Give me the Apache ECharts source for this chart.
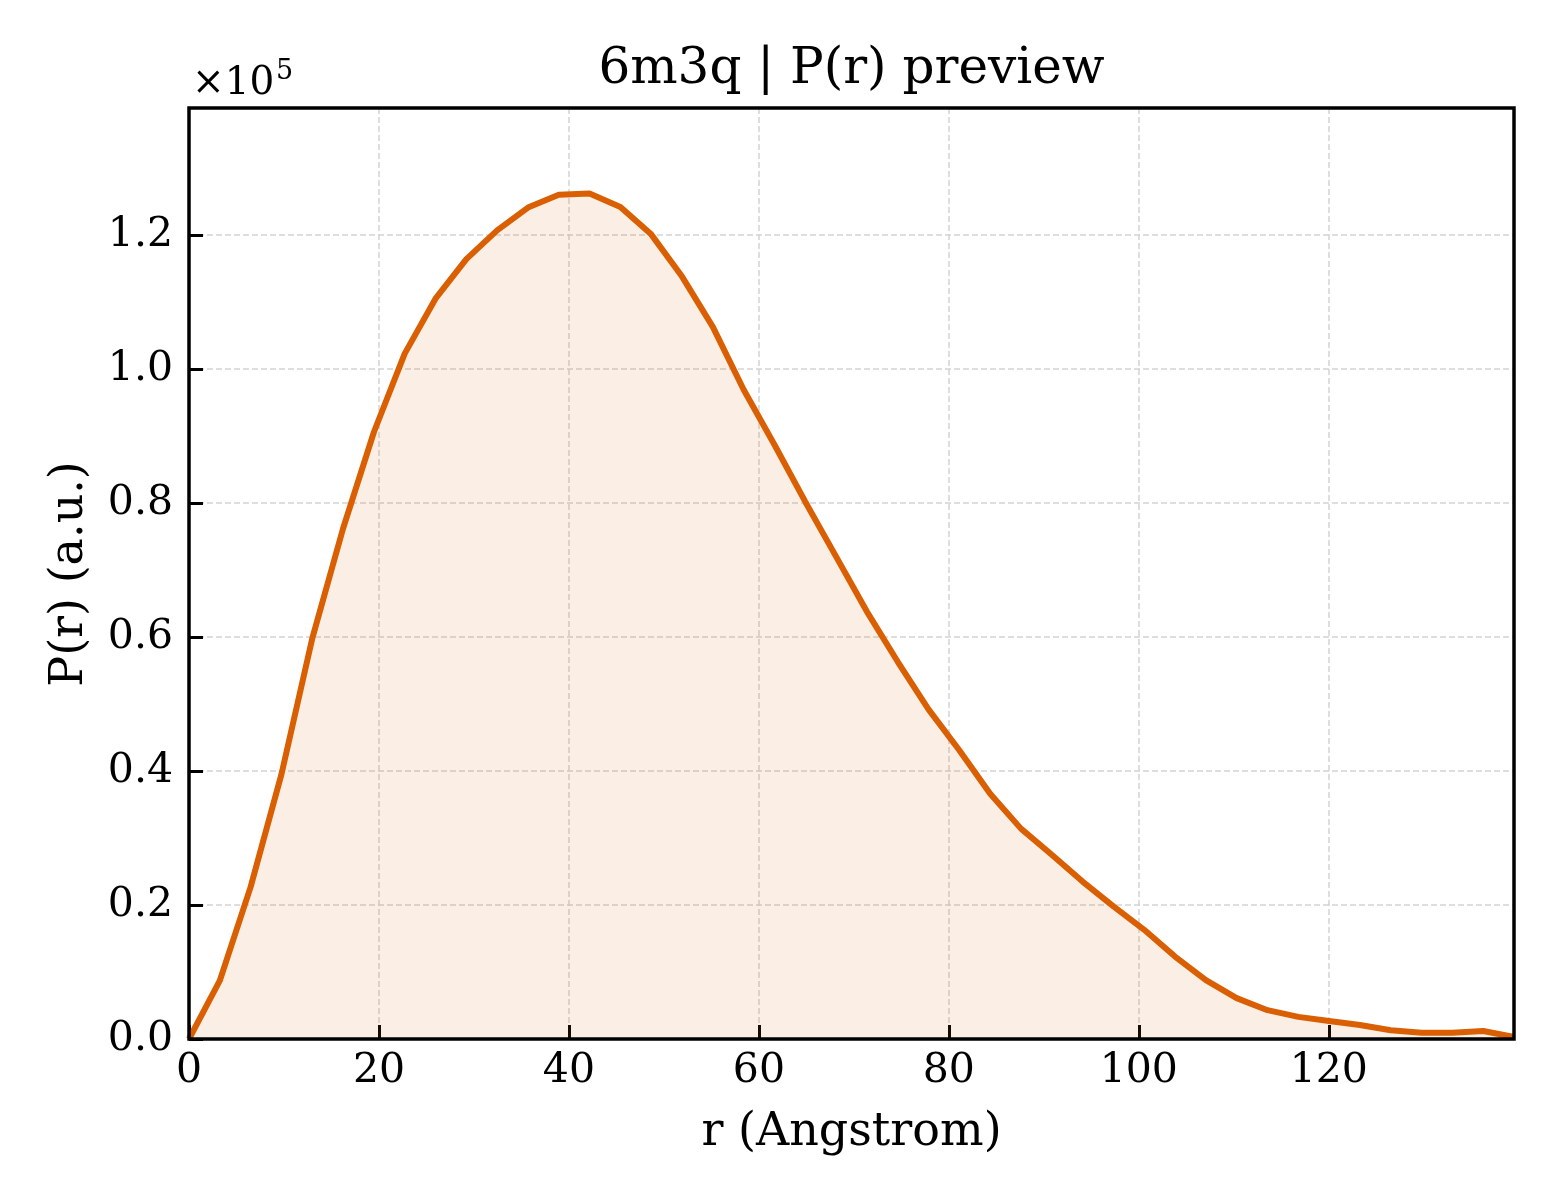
<!DOCTYPE html>
<html>
<head>
<meta charset="utf-8">
<title>6m3q | P(r) preview</title>
<script src="https://cdn.jsdelivr.net/npm/echarts@6/dist/echarts.min.js"></script>
<style>
  html, body { margin: 0; padding: 0; background: #fff; }
  #main { width: 1560px; height: 1200px; }
</style>
</head>
<body>
<div id="main"></div>
<script>
// r in Angstrom
var rValues = [0, 3.24, 6.49, 9.73, 12.98, 16.22, 19.47, 22.71, 25.95, 29.2,
    32.44, 35.69, 38.93, 42.17, 45.42, 48.66, 51.91, 55.15, 58.4, 61.64,
    64.88, 68.13, 71.37, 74.62, 77.86, 81.1, 84.35, 87.59, 90.84, 94.08,
    97.33, 100.57, 103.81, 107.06, 110.3, 113.55, 116.79, 120.03, 123.28, 126.52,
    129.77, 133.01, 136.26, 139.5];

// P(r), arbitrary units
var prValues = [0, 8700, 22700, 39500, 59800, 76200, 90600, 102300, 110500, 116400,
    120700, 124100, 126000, 126200, 124200, 120100, 113800, 106300, 96900, 88700,
    80200, 72000, 63800, 56300, 49200, 43100, 36600, 31400, 27500, 23500,
    19800, 16300, 12300, 8800, 6100, 4300, 3300, 2700, 2100, 1300,
    950, 950, 1200, 300];

var xTicks = [0, 20, 40, 60, 80, 100, 120];
var yTicks = [0, 0.2, 0.4, 0.6, 0.8, 1.0, 1.2];   // x 1e5

var titleText = '6m3q | P(r) preview';
var xName = 'r (Angstrom)';
var yName = 'P(r) (a.u.)';

var serif = '"DejaVu Serif", serif';
var orange = '#d95f02';

var seriesData = [];
for (var i = 0; i < rValues.length; i++) {
    seriesData.push([rValues[i], prValues[i]]);
}

var myChart = echarts.init(document.getElementById('main'), null, { renderer: 'canvas' });

var gridLine = { show: true, lineStyle: { color: '#d3d3d3', width: 1.5, type: [6, 3] } };

// plot box
var box = { left: 189, top: 108, width: 1325, height: 931 };

option = {
    backgroundColor: '#fff',
    animation: false,
    grid: {
        left: box.left, top: box.top, width: box.width, height: box.height,
        show: false
    },
    xAxis: {
        type: 'value',
        min: 0,
        max: 139.5,
        interval: 20,
        axisLine: { show: false },
        axisTick: { show: true, inside: true, length: 14, lineStyle: { color: '#000', width: 3 } },
        axisLabel: {
            margin: 12, color: '#000', fontFamily: serif, fontSize: 41,
            showMaxLabel: false,
            formatter: function (v) { return xTicks.indexOf(v) >= 0 ? String(v) : ''; }
        },
        splitLine: gridLine
    },
    yAxis: {
        type: 'value',
        min: 0,
        max: 138960,
        interval: 20000,
        axisLine: { show: false },
        axisTick: { show: true, inside: true, length: 14, lineStyle: { color: '#000', width: 3 } },
        axisLabel: {
            margin: 16, color: '#000', fontFamily: serif, fontSize: 41,
            showMaxLabel: false,
            formatter: function (v) {
                var t = v / 1e5;
                for (var k = 0; k < yTicks.length; k++) {
                    if (Math.abs(yTicks[k] - t) < 1e-6) return yTicks[k].toFixed(1);
                }
                return '';
            }
        },
        splitLine: gridLine
    },
    graphic: [
        // frame drawn on top of the grid lines
        { type: 'rect', z: 100, shape: { x: box.left, y: box.top, width: box.width, height: box.height },
          style: { fill: 'none', stroke: '#000', lineWidth: 3.5 } },
        { type: 'text', x: 851.5, y: 70, style: { text: titleText, font: '50px ' + serif, fill: '#000', align: 'center', verticalAlign: 'middle', textAlign: 'center', textVerticalAlign: 'middle' } },
        { type: 'text', x: 851.5, y: 1133, style: { text: xName, font: '46px ' + serif, fill: '#000', align: 'center', verticalAlign: 'middle', textAlign: 'center', textVerticalAlign: 'middle' } },
        { type: 'text', x: 70, y: 574, rotation: Math.PI / 2, style: { text: yName, font: '46px ' + serif, fill: '#000', align: 'center', verticalAlign: 'middle', textAlign: 'center', textVerticalAlign: 'middle' } },
        { type: 'text', x: 192, y: 84, style: { text: '\u00d710', font: '39px ' + serif, fill: '#000', align: 'left', verticalAlign: 'middle', textAlign: 'left', textVerticalAlign: 'middle' } },
        { type: 'text', x: 276, y: 72, style: { text: '5', font: '27px ' + serif, fill: '#000', align: 'left', verticalAlign: 'middle', textAlign: 'left', textVerticalAlign: 'middle' } }
    ],
    series: [{
        type: 'line',
        data: seriesData,
        showSymbol: false,
        smooth: false,
        clip: true,
        lineStyle: { color: orange, width: 6 },
        itemStyle: { color: orange },
        areaStyle: { color: 'rgba(217, 95, 2, 0.15)', origin: 'start' },
        z: 3
    }]
};

myChart.setOption(option);
</script>
</body>
</html>
